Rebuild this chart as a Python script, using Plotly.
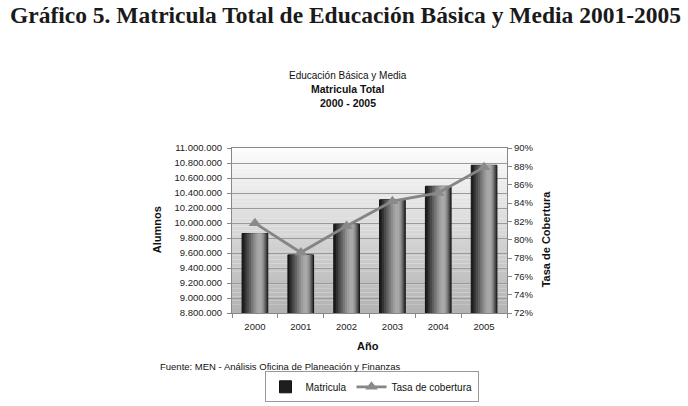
import plotly.graph_objects as go

years = ["2000", "2001", "2002", "2003", "2004", "2005"]
matricula = [9860000, 9575000, 9985000, 10310000, 10490000, 10770000]
tasa = [81.8, 78.6, 81.5, 84.2, 85.1, 87.9]

left_ticks = list(range(8800000, 11000001, 200000))
right_ticks = list(range(72, 91, 2))
right_labels = [f"{v}%" for v in right_ticks]

fig = go.Figure()

# cylindrical shading layers for bars (outer -> inner): width, centre shift, colour
layers = [
    (0.56, 0.000, "#1e1e1e"),
    (0.50, 0.020, "#343434"),
    (0.44, 0.035, "#4a4a4a"),
    (0.37, 0.050, "#606060"),
    (0.30, 0.065, "#777777"),
    (0.23, 0.080, "#8c8c8c"),
    (0.16, 0.090, "#9c9c9c"),
    (0.09, 0.100, "#a8a8a8"),
]
for i, (w, c, col) in enumerate(layers):
    fig.add_trace(go.Bar(
        x=years, y=matricula, width=w, offset=-w / 2 + c,
        marker=dict(color=col, line=dict(color="#111111", width=1 if i == 0 else 0)),
        name="Matricula", showlegend=(i == 0), hoverinfo="skip" if i else None,
        yaxis="y",
    ))

fig.add_trace(go.Scatter(
    x=years, y=tasa, yaxis="y2", mode="lines+markers", name="Tasa de cobertura",
    line=dict(color="#858585", width=2.8),
    marker=dict(symbol="triangle-up", size=11, color="#8a8a8a"),
))

# gradient plot background
n = 40
shapes = []
for k in range(n):
    t = k / (n - 1)
    g = int(252 - 72 * t)
    shapes.append(dict(type="rect", xref="paper", yref="paper",
                       x0=0, x1=1, y0=1 - (k + 1) / n, y1=1 - k / n,
                       fillcolor=f"rgb({g},{g},{g})", line=dict(width=0),
                       layer="below"))

tick_font = dict(family="Liberation Sans, Arial, sans-serif", size=9.5, color="#222")

PL, PR, PT, PB = 232, 507, 147.7, 312.7
PW, PH = PR - PL, PB - PT


def px(x):
    return (x - PL) / PW


def py(y):
    return (PB - y) / PH


def note(text, x, y, size, font_family="Liberation Sans, Arial, sans-serif", angle=0,
         xanchor="center", color="#111"):
    return dict(text=text, x=px(x), y=py(y), xref="paper", yref="paper", showarrow=False,
                xanchor=xanchor, yanchor="middle", textangle=angle,
                font=dict(family=font_family, size=size, color=color))


annotations = [
    note("<b>Gráfico 5. Matricula Total de Educación Básica y Media 2001-2005</b>", 345, 15,
         23.5, "Liberation Serif, Times New Roman, serif", color="#1a1a1a"),
    note("Educación Básica y Media", 347.5, 75, 10),
    note("<b>Matricula Total</b>", 347.5, 89, 10.5),
    note("<b>2000 - 2005</b>", 347.5, 102.5, 10.5),
    note("<b>Alumnos</b>", 157, 230, 11, angle=-90),
    note("<b>Tasa de Cobertura</b>", 546, 239, 11, angle=-90),
    note("<b>Año</b>", 368, 346, 11),
    note("Fuente: MEN - Análisis Oficina de Planeación y Finanzas", 158, 366, 9.5,
         xanchor="left"),
]

fig.update_layout(
    width=688, height=406,
    margin=dict(l=PL, r=688 - PR, t=PT, b=406 - PB, autoexpand=False),
    paper_bgcolor="white", plot_bgcolor="white",
    barmode="overlay",
    separators=",.",
    shapes=shapes, annotations=annotations,
    xaxis=dict(type="category", tickfont=tick_font, ticks="outside", tickson="boundaries",
               ticklen=4, tickcolor="#888", showline=True, linecolor="#888", mirror=True,
               showgrid=False, ticklabelstandoff=5),
    yaxis=dict(range=[8800000, 11000000], tickvals=left_ticks, tickformat=",d",
               tickfont=tick_font, ticks="outside", ticklen=4, tickcolor="#888",
               showline=True, linecolor="#888", mirror=True, ticklabelstandoff=3,
               showgrid=True, gridcolor="#9a9a9a", gridwidth=1, zeroline=False),
    yaxis2=dict(range=[72, 90], tickmode="array", tickvals=right_ticks, ticktext=right_labels,
                overlaying="y", side="right", tickfont=tick_font, ticks="outside", ticklen=4,
                tickcolor="#888", showgrid=False, zeroline=False, showline=False),
    legend=dict(orientation="h", x=px(371.5), y=py(371),
                xanchor="center", yanchor="top", bordercolor="#999", borderwidth=1,
                bgcolor="white", font=dict(family="Liberation Sans, Arial", size=10, color="#111"),
                itemwidth=30, tracegroupgap=0),
    showlegend=True,
)

fig.write_html("out.html", config={"displayModeBar": False},
               post_script="document.body.style.margin='0';")
